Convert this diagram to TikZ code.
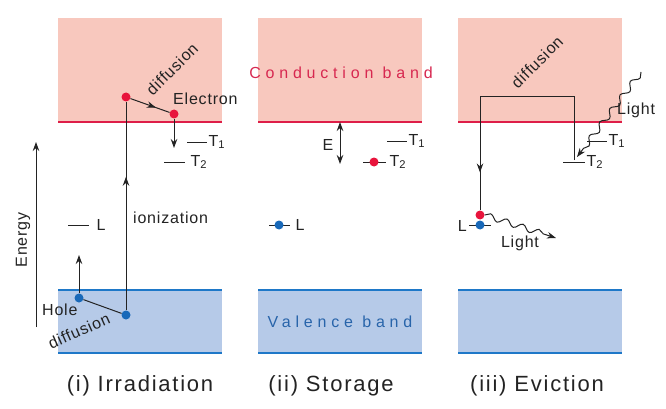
\documentclass[tikz,border=0pt]{standalone}
\usepackage{fontspec}
\setmainfont{Liberation Sans}
\newfontfamily\capfont[LetterSpace=8]{Liberation Sans}
\newfontfamily\bandfont[LetterSpace=30]{Liberation Sans}
\newfontfamily\lblfont[LetterSpace=5]{Liberation Sans}
\usetikzlibrary{arrows.meta,decorations.pathmorphing,decorations.markings}
\definecolor{cbfill}{RGB}{248,200,190}
\definecolor{cbline}{RGB}{222,30,72}
\definecolor{vbfill}{RGB}{182,202,232}
\definecolor{vbline}{RGB}{30,120,200}
\definecolor{edot}{RGB}{232,20,60}
\definecolor{hdot}{RGB}{25,105,185}
\definecolor{cbtext}{RGB}{215,40,80}
\definecolor{vbtext}{RGB}{40,100,170}
\definecolor{ink}{RGB}{35,35,35}
\tikzset{
 lbl/.style={font=\lblfont\fontsize{16}{18}\selectfont, text=ink, inner sep=1pt},
 captxt/.style={font=\capfont\fontsize{22}{26}\selectfont, text=ink, inner sep=0pt},
 bandtxt/.style={font=\bandfont\fontsize{16}{18}\selectfont, inner sep=0pt},
 edotst/.style={circle, fill=edot, inner sep=0pt, minimum size=9pt},
 hdotst/.style={circle, fill=hdot, inner sep=0pt, minimum size=9pt},
 lvl/.style={draw=ink, line width=1pt},
 conn/.style={draw=ink, line width=1pt},
 arr/.style={draw=ink, line width=1pt, -{Stealth[length=9pt,width=6.5pt]}},
 midarr/.style={postaction=decorate, decoration={markings, mark=at position #1 with {\arrow{Stealth[length=9pt,width=6.5pt]}}}},
 wavy/.style={decorate, decoration={snake, amplitude=3pt, segment length=17pt, post length=7pt}},
}
\begin{document}
\begin{tikzpicture}[x=1pt,y=-1pt]
\useasboundingbox (0,0) rectangle (666,409);
\fill[white] (0,0) rectangle (666,409);
% bands
\foreach \x in {58,258,458}{
  \fill[cbfill] (\x,18) rectangle (\x+164,122);
  \draw[cbline, line width=1.6pt] (\x,122) -- (\x+164,122);
  \fill[vbfill] (\x,290) rectangle (\x+164,353);
  \draw[vbline, line width=1.8pt] (\x,290) -- (\x+164,290);
  \draw[vbline, line width=1.8pt] (\x,353) -- (\x+164,353);
}
\node[bandtxt, text=cbtext] (cbt) at (341,73) {Conduction band};
\node[bandtxt, text=vbtext] (vbt) at (340,322) {Valence band};
% captions
\node[captxt] (cap1) at (140,386) {(i) Irradiation};
\node[captxt] (cap2) at (331,386) {(ii) Storage};
\node[captxt] (cap3) at (537,386) {(iii) Eviction};
% energy axis
\coordinate (en0) at (36,327);
\coordinate (en1) at (36,142);
\draw[arr] (en0) -- (en1);
\node[lbl, rotate=90] (energy) at (23,240) {Energy};

% ---------- panel (i)
\node[edotst] (e1) at (126,97) {};
\node[edotst] (e2) at (174,114) {};
\node[hdotst] (h1) at (79,298) {};
\node[hdotst] (h2) at (126,315) {};
\draw[conn, midarr=0.65] (e1) -- (e2);
\coordinate (e2d) at (174,148);
\draw[arr] (e2) -- (e2d);
\draw[conn, midarr=0.64] (h2) -- (e1);
\draw[conn] (h1) -- (h2);
\coordinate (h1u) at (79,255);
\draw[arr] (h1) -- (h1u);
\node[lbl, rotate=45] (dif1) at (172,69) {diffusion};
\node[lbl, anchor=west] (elec) at (172,99) {Electron};
\node[lbl, anchor=west] (ion) at (132,218) {ionization};
\node[lbl, anchor=west] (hole) at (41,310) {Hole};
\node[lbl, rotate=24] (dif2) at (79,331) {diffusion};
\draw[lvl] (187,142) -- (207,142) node[lbl, anchor=west] (t1a) {T\textsubscript{1}};
\draw[lvl] (164,162) -- (185,162) node[lbl, anchor=west, xshift=4pt] (t2a) {T\textsubscript{2}};
\draw[lvl] (68,225) -- (89,225) node[lbl, anchor=west, xshift=6pt] (la) {L};

% ---------- panel (ii)
\coordinate (eb0) at (340,122);
\coordinate (eb1) at (340,164);
\draw[draw=ink, line width=1pt, {Stealth[length=9pt,width=6.5pt]}-{Stealth[length=9pt,width=6.5pt]}] (eb0) -- (eb1);
\node[lbl] (elab) at (328,145) {E};
\draw[lvl] (387,141) -- (407,141) node[lbl, anchor=west] (t1b) {T\textsubscript{1}};
\draw[lvl] (363,162) -- (386,162) node[lbl, anchor=west, xshift=2pt] (t2b) {T\textsubscript{2}};
\node[edotst] (eb) at (374,162) {};
\draw[lvl] (269,225) -- (290,225) node[lbl, anchor=west, xshift=4pt] (lb) {L};
\node[hdotst] (hb) at (279,225) {};

% ---------- panel (iii)
\draw[lvl] (587,141) -- (607,141) node[lbl, anchor=west] (t1c) {T\textsubscript{1}};
\draw[lvl] (563,162) -- (585,162) node[lbl, anchor=west] (t2c) {T\textsubscript{2}};
\draw[lvl] (469,225) -- (491,225);
\node[lbl, anchor=east] (lc) at (468,226) {L};
\node[edotst] (ec) at (480,215) {};
\node[hdotst] (hc) at (480,225) {};
\coordinate (p0) at (574,160);
\coordinate (p1) at (574,97);
\coordinate (p2) at (480,97);
\draw[conn, midarr=0.86] (p0) -- (p1) -- (p2) -- (ec);
\node[lbl, rotate=45] (dif3) at (537,62) {diffusion};
\coordinate (lt0) at (641,72);
\coordinate (lt1) at (577,157);
\draw[arr, wavy] (lt0) -- (lt1);
\node[lbl, anchor=west] (light1) at (616,110) {Light};
\coordinate (lb1) at (556,238);
\draw[arr, wavy] (ec.east) -- (lb1);
\node[lbl] (light2) at (520,243) {Light};
\end{tikzpicture}
\end{document}
